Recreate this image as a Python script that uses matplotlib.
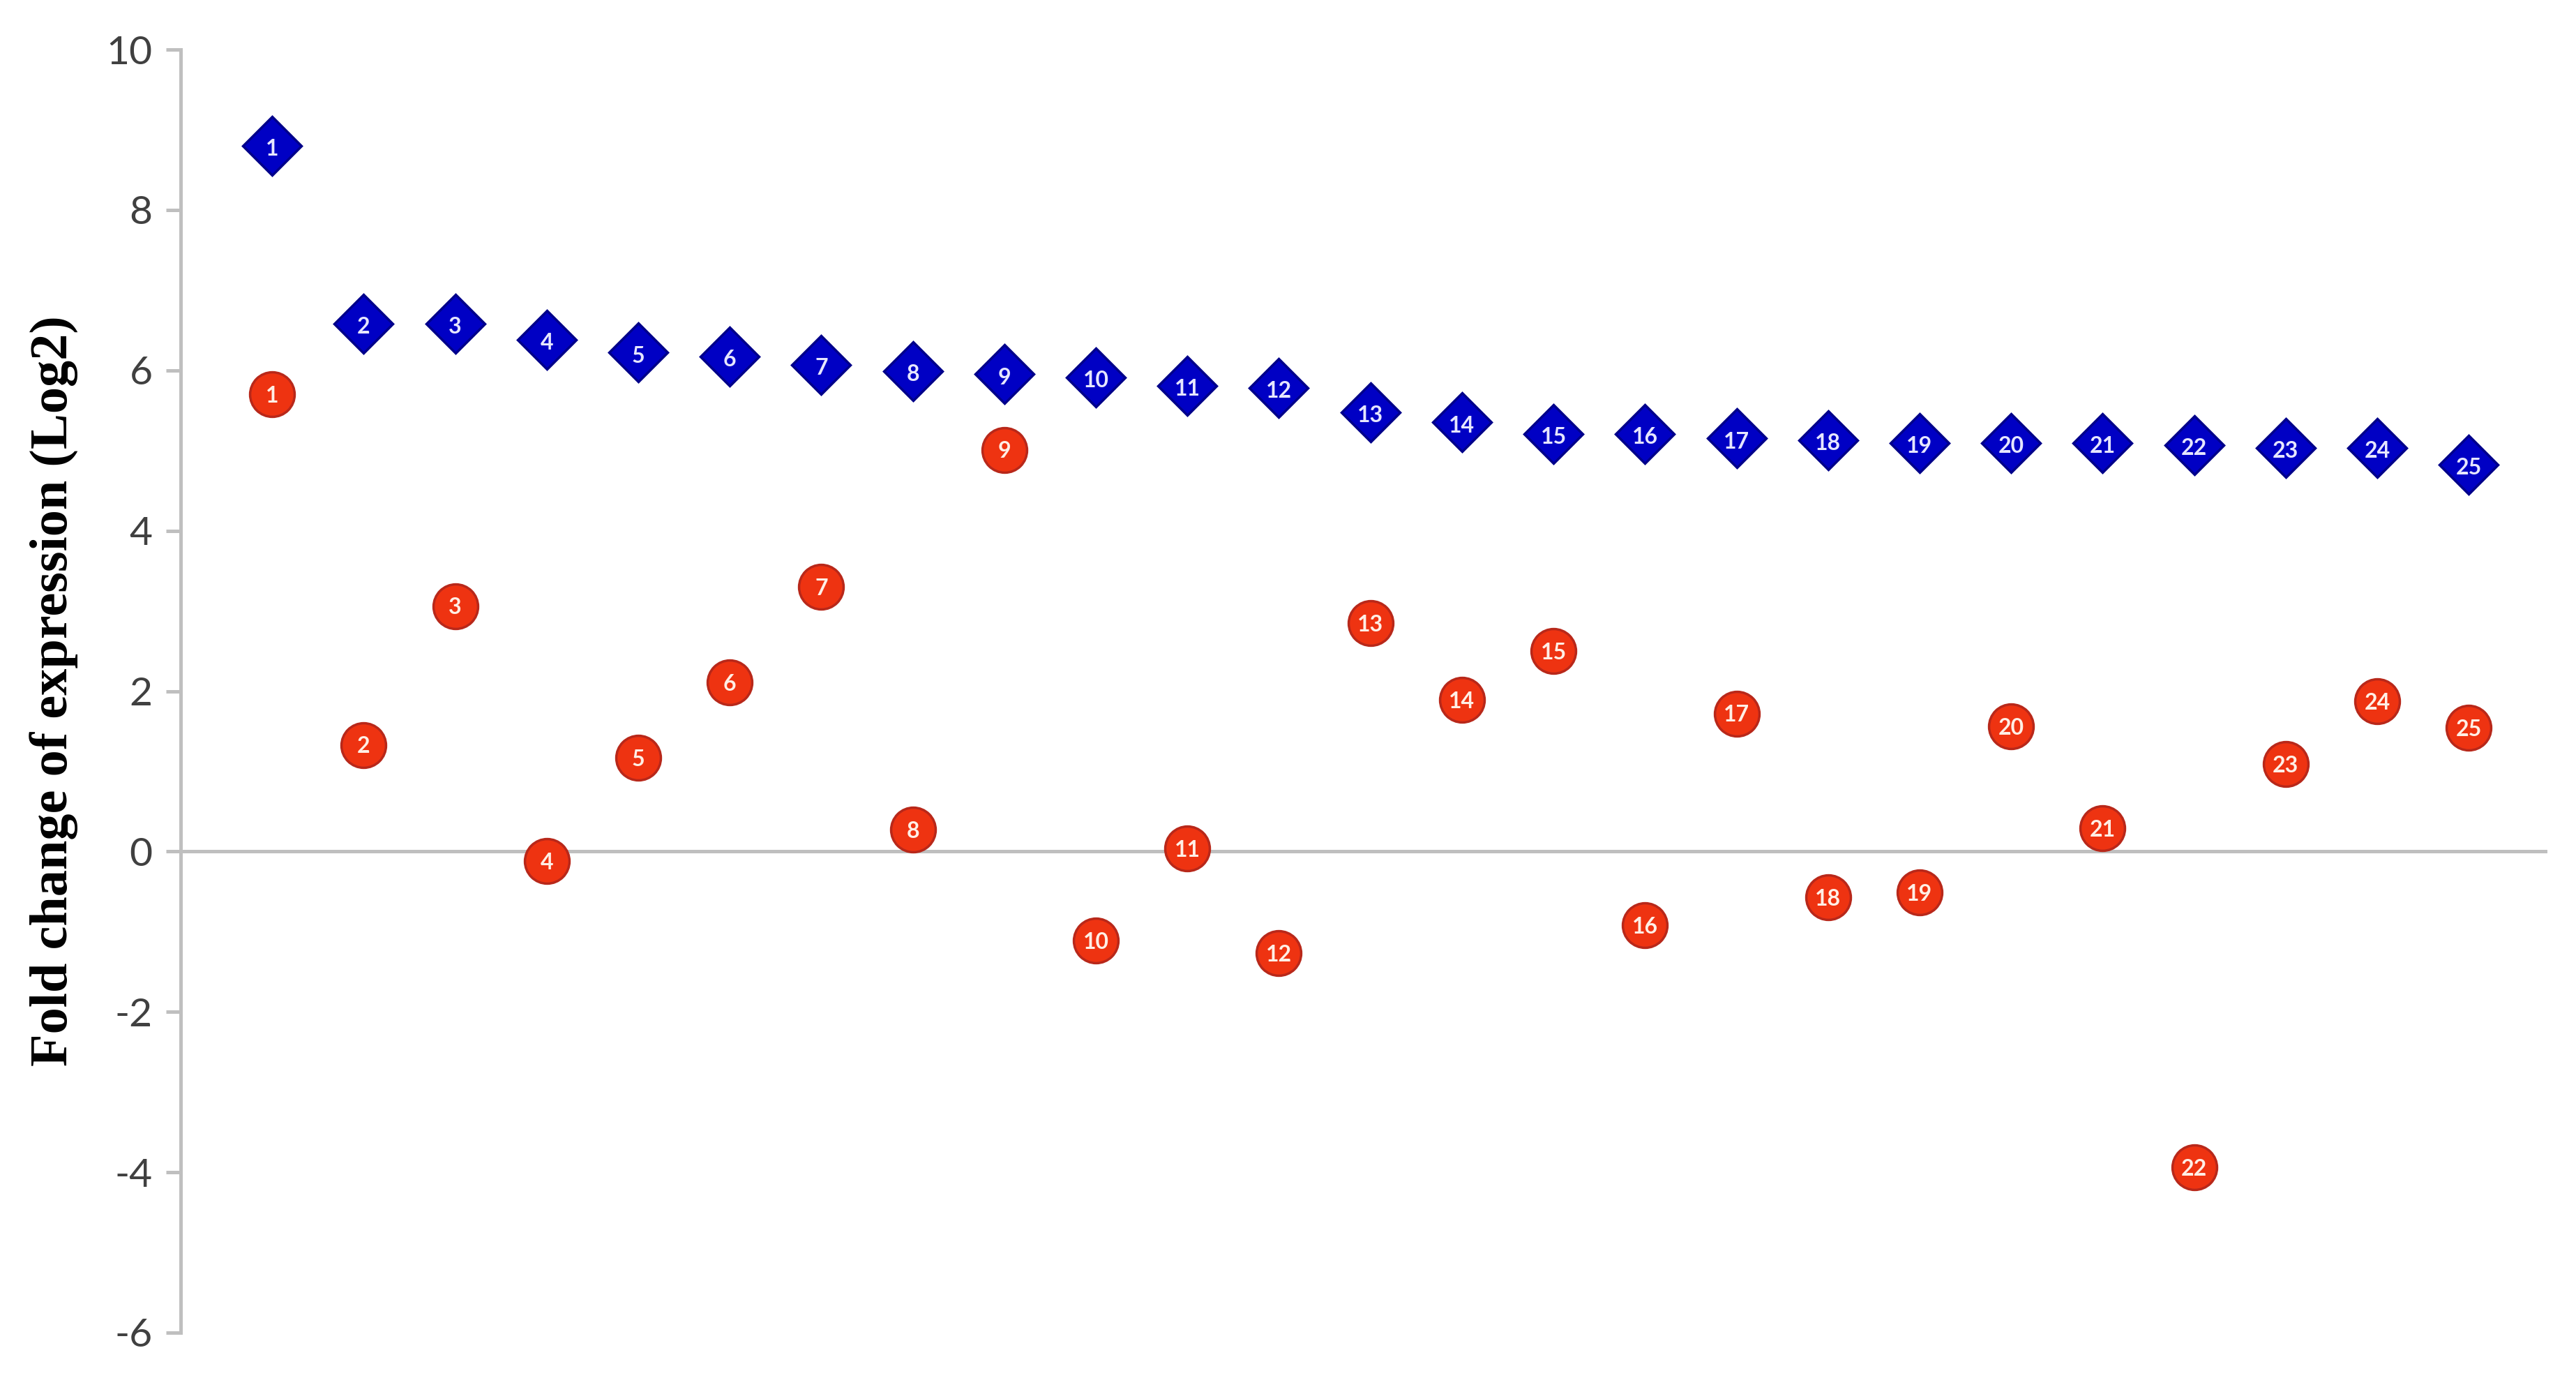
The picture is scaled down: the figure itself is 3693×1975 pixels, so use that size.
import matplotlib
matplotlib.use('Agg')
import matplotlib.pyplot as plt
import numpy as np

###############################
# data
###############################

gene_ids = list(range(1, 26))

# blue diamonds
fold_blue = [8.80, 6.58, 6.58, 6.38, 6.22, 6.17, 6.07, 5.99, 5.95, 5.91,
             5.81, 5.78, 5.48, 5.35, 5.21, 5.21, 5.15, 5.13, 5.09, 5.09,
             5.09, 5.07, 5.03, 5.03, 4.82]

# red circles
fold_red = [5.70, 1.33, 3.06, -0.12, 1.17, 2.11, 3.30, 0.27, 5.01, -1.11,
            0.04, -1.27, 2.85, 1.89, 2.50, -0.92, 1.72, -0.57, -0.51, 1.56,
            0.29, -3.94, 1.09, 1.87, 1.54]

y_ticks = [10, 8, 6, 4, 2, 0, -2, -4, -6]

###############################
# plot
###############################

fig = plt.figure(figsize=(36.93, 19.75), dpi=100)
ax = fig.add_axes([259/3693, 1 - 1910/1975, (3652 - 259)/3693, (1910 - 71)/1975])

axis_grey = '#BFBFBF'

# zero line (the category axis crosses here)
ax.axhline(0, color=axis_grey, lw=3.6, zorder=1)

ax.plot(gene_ids, fold_red, ls='none', marker='o', ms=46,
        mfc='#EE3311', mec='#B8281A', mew=2.5, zorder=3)
ax.plot(gene_ids, fold_blue, ls='none', marker='D', ms=43,
        mfc='#0000C4', mec='#00008A', mew=2.5, zorder=3)

# number labels inside the markers
for g, yb, yr in zip(gene_ids, fold_blue, fold_red):
    ax.text(g, yb - 0.04, str(g), ha='center', va='center', color='#E6E6FF',
            fontsize=23, fontweight='bold', family=['Lato', 'DejaVu Sans'], zorder=4)
    ax.text(g, yr - 0.02, str(g), ha='center', va='center', color='#FFEFE6',
            fontsize=23, fontweight='bold', family=['Lato', 'DejaVu Sans'], zorder=4)

ax.set_xlim(0, 25.86)
ax.set_ylim(-6, 10)
ax.set_yticks(y_ticks)
ax.set_yticklabels([str(t) for t in y_ticks], family=['Lato', 'DejaVu Sans'],
                   fontsize=41, color='#404040')
ax.set_xticks([])

for side in ['top', 'right', 'bottom']:
    ax.spines[side].set_visible(False)
ax.spines['left'].set_color(axis_grey)
ax.spines['left'].set_linewidth(3.6)
ax.tick_params(axis='y', length=15, width=3.6, color=axis_grey, pad=14)

ax.set_ylabel('Fold change of expression (Log2)', family=['Liberation Serif'],
              fontweight='bold', fontsize=55, color='black')
ax.yaxis.set_label_coords(-0.043, 0.5)

plt.savefig('out.png', dpi=100)
